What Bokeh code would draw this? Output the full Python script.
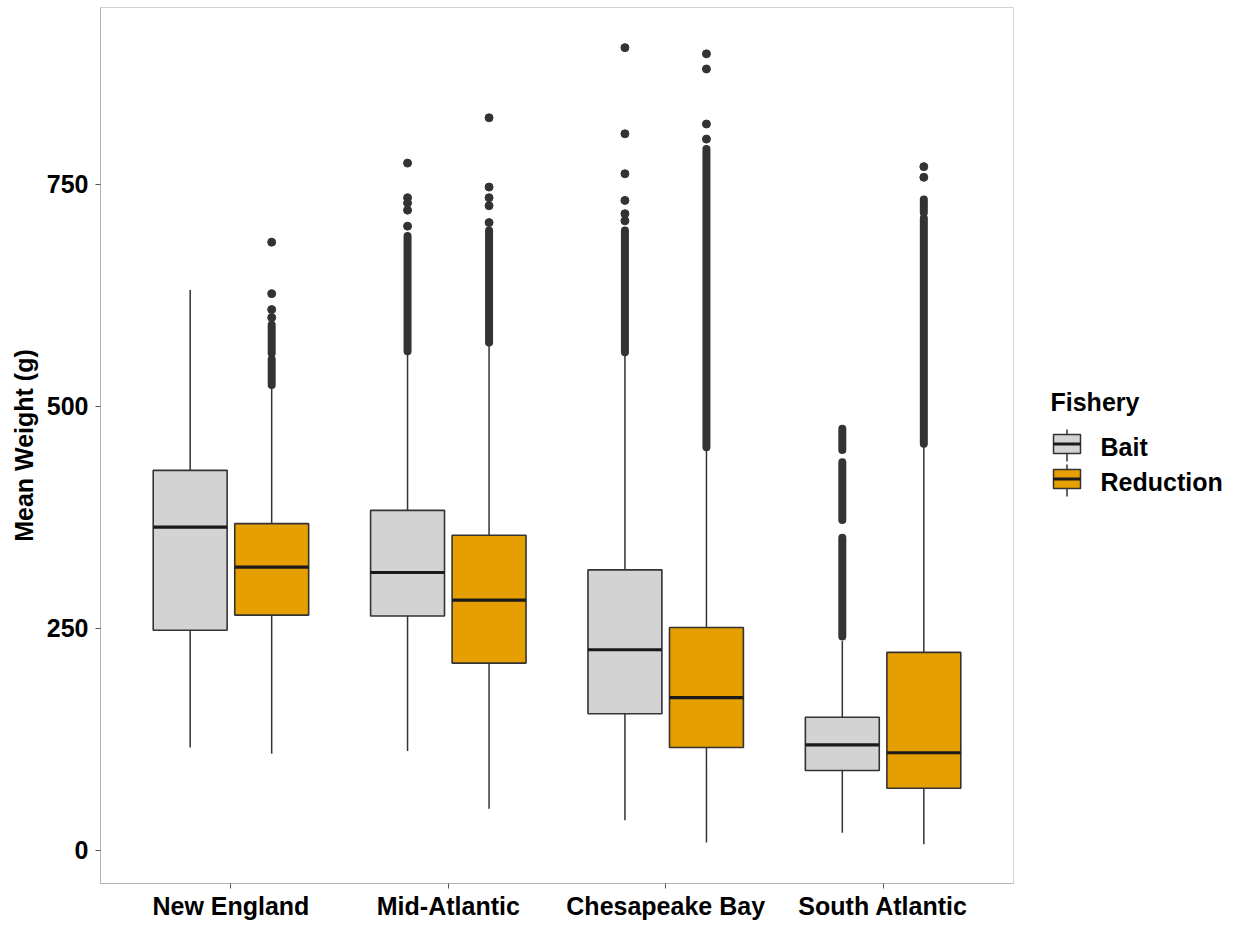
from bokeh.plotting import figure
from bokeh.models import FactorRange, Range1d, ColumnDataSource, FixedTicker
from bokeh.transform import dodge
from bokeh.layouts import row
from bokeh.core.properties import value
from bokeh.embed import file_html
from bokeh.resources import INLINE

# ---------------- data ----------------
regions = ["New England", "Mid-Atlantic", "Chesapeake Bay", "South Atlantic"]
fisheries = ["Bait", "Reduction"]

bait_low = [116, 112, 34, 20]
bait_q1 = [248, 264, 154, 90]
bait_med = [364, 313, 226, 119]
bait_q3 = [428, 383, 316, 150]
bait_high = [631, 558, 557, 236]

red_low = [109, 47, 9, 7]
red_q1 = [265, 211, 116, 70]
red_med = [319, 282, 172, 110]
red_q3 = [368, 355, 251, 223]
red_high = [521, 569, 451, 455]

# individual outliers
bait_out_region = ["Mid-Atlantic"] * 5 + ["Chesapeake Bay"] * 6
bait_out_value = [774, 735, 729, 721, 703, 904, 807, 762, 732, 717, 709]
red_out_region = ["New England"] * 4 + ["Mid-Atlantic"] * 5 + ["Chesapeake Bay"] * 4 + ["South Atlantic"] * 2
red_out_value = [685, 627, 609, 600, 825, 747, 735, 726, 707, 897, 880, 818, 801, 770, 758]

# dense runs of overlapping outliers (lowest and highest point)
bait_run_region = ["Mid-Atlantic", "Chesapeake Bay", "South Atlantic", "South Atlantic", "South Atlantic"]
bait_run_lo = [562, 561, 241, 372, 451]
bait_run_hi = [692, 698, 352, 437, 475]
red_run_region = ["New England", "New England", "Mid-Atlantic", "Chesapeake Bay", "South Atlantic", "South Atlantic"]
red_run_lo = [524, 560, 572, 454, 458, 718]
red_run_hi = [553, 592, 698, 790, 712, 733]

y_ticks = [0, 250, 500, 750]

# ---------------- style ----------------
FONT_NAME = "Liberation Sans"
FONT = value(FONT_NAME)
fills = {"Bait": "#D3D3D3", "Reduction": "#E69F00"}
offsets = {"Bait": -0.1875, "Reduction": 0.1875}
BW = 0.34
LINE = "#333333"
DOT = 8

p = figure(width=1018, height=926, output_backend="svg", toolbar_location=None,
           x_range=FactorRange(*regions, range_padding=0.05),
           y_range=Range1d(-37.2, 949.2),
           min_border_left=100, min_border_right=5, min_border_top=7, min_border_bottom=43)
p.xgrid.visible = False
p.ygrid.visible = False
p.outline_line_color = "#D3D3D3"
p.outline_line_width = 1
p.background_fill_color = "white"
p.border_fill_color = "white"

xr = p.x_range
stats = {
    "Bait": dict(region=regions, low=bait_low, q1=bait_q1, med=bait_med, q3=bait_q3, high=bait_high),
    "Reduction": dict(region=regions, low=red_low, q1=red_q1, med=red_med, q3=red_q3, high=red_high),
}
outs = {
    "Bait": dict(region=bait_out_region, y=bait_out_value),
    "Reduction": dict(region=red_out_region, y=red_out_value),
}
runs = {
    "Bait": dict(region=bait_run_region, lo=bait_run_lo, hi=bait_run_hi),
    "Reduction": dict(region=red_run_region, lo=red_run_lo, hi=red_run_hi),
}

for f in fisheries:
    off = offsets[f]
    src = ColumnDataSource(stats[f])
    xc = dodge("region", off, range=xr)
    p.segment(x0=xc, x1=xc, y0="low", y1="q1", source=src, line_color=LINE, line_width=1.5)
    p.segment(x0=xc, x1=xc, y0="q3", y1="high", source=src, line_color=LINE, line_width=1.5)
    rsrc = ColumnDataSource(runs[f])
    p.segment(x0=xc, x1=xc, y0="lo", y1="hi", source=rsrc, line_color=LINE,
              line_width=DOT, line_cap="round")
    osrc = ColumnDataSource(outs[f])
    p.scatter(x=xc, y="y", source=osrc, size=DOT, fill_color=LINE, line_color=LINE)
    p.vbar(x=xc, width=BW, top="q3", bottom="q1", source=src, fill_color=fills[f],
           line_color=LINE, line_width=1.6)
    p.segment(x0=dodge("region", off - BW / 2, range=xr), x1=dodge("region", off + BW / 2, range=xr),
              y0="med", y1="med", source=src, line_color="#1A1A1A", line_width=3.2)

for ax in (p.xaxis[0], p.yaxis[0]):
    ax.axis_line_color = "#B3B3B3"
    ax.axis_line_width = 1
    ax.major_tick_line_color = "#555555"
    ax.major_tick_out = 5
    ax.major_tick_in = 0
    ax.minor_tick_line_color = None
    ax.major_label_text_font = FONT_NAME
    ax.major_label_text_font_style = "bold"
    ax.major_label_text_font_size = "25px"
    ax.major_label_text_color = "black"

p.yaxis.ticker = FixedTicker(ticks=y_ticks)
p.yaxis.major_label_standoff = 7
p.yaxis.axis_label = "Mean Weight (g)"
p.yaxis.axis_label_text_font = FONT_NAME
p.yaxis.axis_label_text_font_style = "bold"
p.yaxis.axis_label_text_font_size = "25px"
p.yaxis.axis_label_text_color = "black"
p.yaxis.axis_label_standoff = 6
p.xaxis.major_label_standoff = 3

# ---------------- legend panel ----------------
leg = figure(frame_width=223, frame_height=926, output_backend="svg", toolbar_location=None,
             x_range=Range1d(0, 223), y_range=Range1d(926, 0),
             x_axis_location=None, y_axis_location=None, title=None,
             min_border=0, min_border_left=0, min_border_right=0, min_border_top=0, min_border_bottom=0)
leg.xgrid.visible = False
leg.ygrid.visible = False
leg.outline_line_color = None
leg.border_fill_color = "white"
leg.background_fill_color = "white"

leg.text(x=[32], y=[394.5], text=["Fishery"], text_font=FONT, text_font_style="bold",
         text_font_size="25px", text_baseline="middle", text_color="black")
key_top = [422, 457]
for i, f in enumerate(fisheries):
    t = key_top[i]
    leg.segment(x0=[48.5], x1=[48.5], y0=[t], y1=[t + 32], line_color=LINE, line_width=1.5)
    leg.quad(left=[35], right=[62], top=[t + 5], bottom=[t + 24], fill_color=fills[f],
             line_color=LINE, line_width=1.5)
    leg.segment(x0=[35], x1=[62], y0=[t + 14.5], y1=[t + 14.5], line_color="#1A1A1A", line_width=3)
    leg.text(x=[82], y=[t + 17], text=[f], text_font=FONT, text_font_style="bold",
             text_font_size="25px", text_baseline="middle", text_color="black")

layout = row(p, leg, spacing=0)
open("out.html", "w").write(file_html(layout, INLINE))
